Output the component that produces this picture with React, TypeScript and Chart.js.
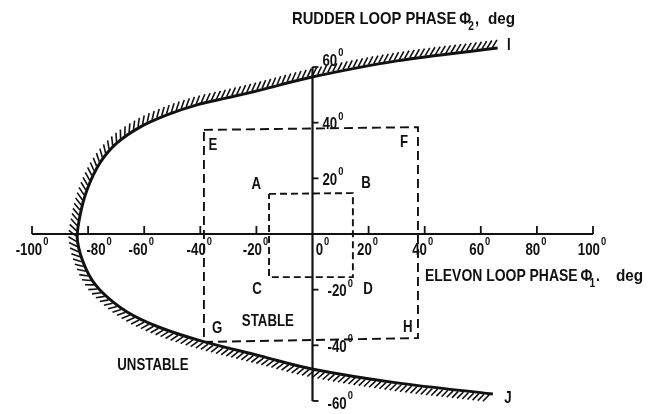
import React, { useEffect, useRef } from "react";
import { Chart, registerables } from "chart.js";

Chart.register(...registerables);

// ---- data ----
const xTicks = [-100, -80, -60, -40, -20, 0, 20, 40, 60, 80, 100];
const xTickLabels = ["-100", "-80", "-60", "-40", "-20", "0", "20", "40", "60", "80", "100"];
const yTicks = [60, 40, 20, -20, -40, -60];
const yTickLabels = ["60", "40", "20", "-20", "-40", "-60"];

// stability boundary, from end I (upper right) round the nose to end J (lower right)
const boundaryX = [66, 30.1, -0.2, -18.7, -30.5, -41.2, -51.9, -61.5, -69.7, -75.8, -80.4, -83.0, -83.8, -80.6, -75.8, -66.1, -54.4, -40.1, -18.7, -0.2, 30.1, 64.3];
const boundaryY = [66.8, 62.2, 56.4, 51.7, 48.9, 46.4, 42.8, 38.4, 32.7, 25.5, 15.8, 6, -2.5, -12.9, -20.1, -28.0, -33.6, -38.3, -43.8, -48.5, -53.5, -57.5];

// dashed boxes E-F-H-G and A-B-D-C
const outerBoxX = [-38.7, 37.6, 37.6, -38.7, -38.7];
const outerBoxY = [37.4, 38.4, -37.4, -38.8, 37.4];
const innerBoxX = [-15.5, 14.4, 14.4, -15.5, -15.5];
const innerBoxY = [14.4, 14.7, -15.5, -15.5, 14.4];

// region annotations (text, x, y in chart units)
const regionText = ["A", "B", "C", "D", "E", "F", "G", "H", "STABLE", "UNSTABLE", "I", "J"];
const regionX = [-20, 19.1, -19.8, 19.8, -35.5, 32.6, -34, 34, -15.9, -56.9, 70, 69.7];
const regionY = [18, 18.3, -19.8, -19.8, 32, 33, -33.8, -33.4, -31.3, -47.1, 67.9, -58.9];

const xTitle = ["ELEVON LOOP PHASE", "\u03A6", "1", ".", "deg"];
const yTitle = ["RUDDER LOOP PHASE", "\u03A6", "2", ",", "deg"];

// ---- layout / style ----
const X_MIN = -111.41;
const X_MAX = 122.82;
const Y_MIN = -64.68;
const Y_MAX = 84.08;
const xLabelShift = [0, 11, -3, -1, -1, 10, -1, -2, -1, -1, -1];
const INK = "#111";
const FONT = '"Liberation Sans", Arial, sans-serif';

function pts(xs: number[], ys: number[]) {
  return xs.map((x, i) => ({ x, y: ys[i] }));
}

function drawText(
  ctx: CanvasRenderingContext2D,
  s: string,
  x: number,
  y: number,
  size: number,
  sx: number,
  align: "left" | "center" | "right" = "left"
) {
  ctx.save();
  ctx.font = `bold ${size}px ${FONT}`;
  ctx.textBaseline = "middle";
  ctx.textAlign = "left";
  const w = ctx.measureText(s).width * sx;
  const left = align === "left" ? x : align === "center" ? x - w / 2 : x - w;
  ctx.translate(left, y);
  ctx.scale(sx, 1);
  ctx.fillStyle = INK;
  ctx.fillText(s, 0, 0);
  ctx.restore();
  return w;
}

function degWidth(ctx: CanvasRenderingContext2D, s: string) {
  ctx.save();
  ctx.font = `bold 17px ${FONT}`;
  const a = ctx.measureText(s).width * 0.78;
  ctx.font = `bold 11px ${FONT}`;
  const b = ctx.measureText("0").width * 0.85;
  ctx.restore();
  return a + b + 1;
}

function drawDeg(ctx: CanvasRenderingContext2D, s: string, left: number, cy: number) {
  const w = drawText(ctx, s, left, cy, 17, 0.78, "left");
  drawText(ctx, "0", left + w + 1, cy - 8, 11, 0.85, "left");
}

const axesPlugin = {
  id: "axesPlugin",
  afterDatasetsDraw(chart: any) {
    const ctx: CanvasRenderingContext2D = chart.ctx;
    const xs = chart.scales.x;
    const ys = chart.scales.y;
    const x0 = xs.getPixelForValue(0);
    const y0 = ys.getPixelForValue(0);
    ctx.save();
    ctx.strokeStyle = INK;
    ctx.lineWidth = 2.2;
    ctx.lineCap = "butt";
    // x axis
    ctx.beginPath();
    ctx.moveTo(xs.getPixelForValue(xTicks[0]), y0);
    ctx.lineTo(xs.getPixelForValue(xTicks[xTicks.length - 1]), y0);
    ctx.stroke();
    ctx.lineWidth = 1.8;
    xTicks.forEach((v) => {
      if (v === 0) return;
      const px = xs.getPixelForValue(v);
      ctx.beginPath();
      ctx.moveTo(px, y0);
      ctx.lineTo(px, y0 - 8);
      ctx.stroke();
    });
    // y axis
    ctx.lineWidth = 2.2;
    const yTop = ys.getPixelForValue(Math.max(...yTicks));
    const yBot = ys.getPixelForValue(Math.min(...yTicks));
    ctx.beginPath();
    ctx.moveTo(x0, yTop);
    ctx.lineTo(x0, yBot);
    ctx.stroke();
    ctx.lineWidth = 1.8;
    yTicks.forEach((v) => {
      const py = ys.getPixelForValue(v);
      ctx.beginPath();
      ctx.moveTo(x0, py);
      ctx.lineTo(x0 + 6, py);
      ctx.stroke();
    });
    ctx.restore();

    // tick labels
    xTicks.forEach((v, i) => {
      const px = xs.getPixelForValue(v) + xLabelShift[i];
      const w = degWidth(ctx, xTickLabels[i]);
      drawDeg(ctx, xTickLabels[i], px - w / 2, y0 + 16);
    });
    yTicks.forEach((v, i) => {
      const py = ys.getPixelForValue(v);
      const neg = v < 0;
      const dy = v === 60 ? -6 : v === -60 ? 3 : 2;
      drawDeg(ctx, yTickLabels[i], x0 + (neg ? 15 : 10), py + dy);
    });

    // axis titles
    const title = (parts: string[], left: number, cy: number, sx: number, degGap: number) => {
      let x = left;
      x += drawText(ctx, parts[0], x, cy, 17, sx, "left");
      x += 3;
      x += drawText(ctx, parts[1], x, cy, 17, 0.85, "left");
      x += drawText(ctx, parts[2], x - 3, cy + 8, 12, 0.85, "left") - 3;
      x += drawText(ctx, parts[3], x + 1, cy, 17, sx, "left") + 1;
      drawText(ctx, parts[4], x + degGap, cy, 17, 0.9, "left");
    };
    title(yTitle, 292, 19, 0.87, 9);
    title(xTitle, 425, 276, 0.82, 16);

    // region annotations
    regionText.forEach((t, i) => {
      drawText(ctx, t, xs.getPixelForValue(regionX[i]), ys.getPixelForValue(regionY[i]), 17, 0.78, "center");
    });
  },
};

const hatchPlugin = {
  id: "hatchPlugin",
  afterDatasetsDraw(chart: any) {
    const ctx: CanvasRenderingContext2D = chart.ctx;
    const meta = chart.getDatasetMeta(0);
    const el: any[] = meta.data;
    const poly: { x: number; y: number }[] = [];
    for (let i = 0; i < el.length - 1; i++) {
      const p0 = el[i];
      const p1 = el[i + 1];
      const c1x = p0.cp2x ?? p0.x, c1y = p0.cp2y ?? p0.y;
      const c2x = p1.cp1x ?? p1.x, c2y = p1.cp1y ?? p1.y;
      const N = 40;
      for (let k = 0; k < N; k++) {
        const t = k / N;
        const u = 1 - t;
        poly.push({
          x: u * u * u * p0.x + 3 * u * u * t * c1x + 3 * u * t * t * c2x + t * t * t * p1.x,
          y: u * u * u * p0.y + 3 * u * u * t * c1y + 3 * u * t * t * c2y + t * t * t * p1.y,
        });
      }
    }
    poly.push({ x: el[el.length - 1].x, y: el[el.length - 1].y });

    const spacing = 5.2;
    const len = 9;
    const ang = (38 * Math.PI) / 180;
    ctx.save();
    ctx.strokeStyle = INK;
    ctx.lineWidth = 1.6;
    ctx.lineCap = "butt";
    let acc = 0;
    for (let i = 1; i < poly.length; i++) {
      const a = poly[i - 1];
      const b = poly[i];
      const d = Math.hypot(b.x - a.x, b.y - a.y);
      if (d === 0) continue;
      const tx = (b.x - a.x) / d;
      const ty = (b.y - a.y) / d;
      let s = spacing - acc;
      while (s <= d) {
        const px = a.x + tx * s;
        const py = a.y + ty * s;
        const nx = -ty;
        const ny = tx;
        const hx = nx * Math.cos(ang) - tx * Math.sin(ang);
        const hy = ny * Math.cos(ang) - ty * Math.sin(ang);
        const sx0 = px + nx * 1.2;
        const sy0 = py + ny * 1.2;
        ctx.beginPath();
        ctx.moveTo(sx0, sy0);
        ctx.lineTo(sx0 + hx * len, sy0 + hy * len);
        ctx.stroke();
        s += spacing;
      }
      acc = d - (s - spacing);
    }
    ctx.restore();
  },
};

export default function App() {
  const ref = useRef<HTMLCanvasElement>(null);
  useEffect(() => {
    const canvas = ref.current!;
    const chart = new Chart(canvas, {
      type: "scatter",
      data: {
        datasets: [
          {
            data: pts(boundaryX, boundaryY),
            showLine: true,
            borderColor: INK,
            borderWidth: 3,
            tension: 0.35,
            pointRadius: 0,
            fill: false,
          },
          {
            data: pts(outerBoxX, outerBoxY),
            showLine: true,
            borderColor: INK,
            borderWidth: 1.9,
            borderDash: [9, 5],
            tension: 0,
            pointRadius: 0,
          },
          {
            data: pts(innerBoxX, innerBoxY),
            showLine: true,
            borderColor: INK,
            borderWidth: 1.9,
            borderDash: [7, 4],
            tension: 0,
            pointRadius: 0,
          },
        ],
      } as any,
      options: {
        responsive: false,
        animation: false,
        devicePixelRatio: 1,
        events: [],
        layout: { padding: 0 },
        plugins: { legend: { display: false }, tooltip: { enabled: false } },
        scales: {
          x: { type: "linear", min: X_MIN, max: X_MAX, display: false },
          y: { type: "linear", min: Y_MIN, max: Y_MAX, display: false },
        },
      } as any,
      plugins: [hatchPlugin, axesPlugin],
    });
    return () => chart.destroy();
  }, []);
  return (
    <div style={{ position: "absolute", left: 0, top: 0, width: 657, height: 414, background: "#fff" }}>
      <canvas ref={ref} width={657} height={414} style={{ display: "block" }} />
    </div>
  );
}
